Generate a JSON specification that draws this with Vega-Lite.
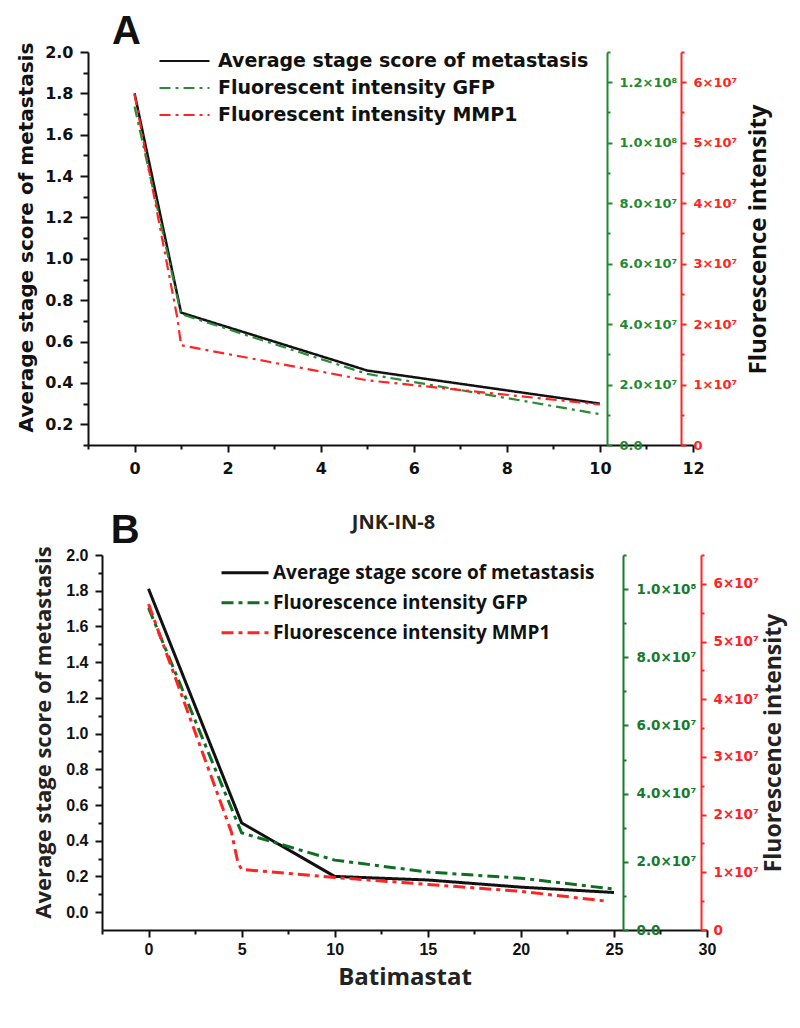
{
  "$schema": "https://vega.github.io/schema/vega-lite/v6.json",
  "background": "white",
  "padding": {"left": 16, "top": 12, "right": 8, "bottom": 8},
  "config": {"view": {"stroke": null}, "axis": {"grid": false}},
  "datasets": {
    "a": [
      {"x": 0, "series": "Average stage score of metastasis", "v": 1.8},
      {"x": 1, "series": "Average stage score of metastasis", "v": 0.74},
      {"x": 5, "series": "Average stage score of metastasis", "v": 0.46},
      {"x": 10, "series": "Average stage score of metastasis", "v": 0.30},
      {"x": 0, "series": "Fluorescent intensity GFP", "v": 112000000},
      {"x": 1, "series": "Fluorescent intensity GFP", "v": 43300000},
      {"x": 5, "series": "Fluorescent intensity GFP", "v": 23500000},
      {"x": 10, "series": "Fluorescent intensity GFP", "v": 10200000},
      {"x": 0, "series": "Fluorescent intensity MMP1", "v": 58000000},
      {"x": 0.92, "series": "Fluorescent intensity MMP1", "v": 21000000},
      {"x": 1, "series": "Fluorescent intensity MMP1", "v": 16500000},
      {"x": 5, "series": "Fluorescent intensity MMP1", "v": 10700000},
      {"x": 10, "series": "Fluorescent intensity MMP1", "v": 6700000}
    ],
    "b": [
      {"x": 0, "series": "Average stage score of metastasis", "v": 1.81},
      {"x": 5, "series": "Average stage score of metastasis", "v": 0.5},
      {"x": 10, "series": "Average stage score of metastasis", "v": 0.2},
      {"x": 15, "series": "Average stage score of metastasis", "v": 0.18},
      {"x": 20, "series": "Average stage score of metastasis", "v": 0.14},
      {"x": 25, "series": "Average stage score of metastasis", "v": 0.11},
      {"x": 0, "series": "Fluorescence intensity GFP", "v": 94500000},
      {"x": 5, "series": "Fluorescence intensity GFP", "v": 28500000},
      {"x": 10, "series": "Fluorescence intensity GFP", "v": 20500000},
      {"x": 15, "series": "Fluorescence intensity GFP", "v": 17000000},
      {"x": 20, "series": "Fluorescence intensity GFP", "v": 15200000},
      {"x": 25, "series": "Fluorescence intensity GFP", "v": 12000000},
      {"x": 0, "series": "Fluorescence intensity MMP1", "v": 56500000},
      {"x": 4.45, "series": "Fluorescence intensity MMP1", "v": 17000000},
      {"x": 4.8, "series": "Fluorescence intensity MMP1", "v": 11700000},
      {"x": 5, "series": "Fluorescence intensity MMP1", "v": 10500000},
      {"x": 10, "series": "Fluorescence intensity MMP1", "v": 9100000},
      {"x": 15, "series": "Fluorescence intensity MMP1", "v": 7900000},
      {"x": 20, "series": "Fluorescence intensity MMP1", "v": 6700000},
      {"x": 24.6, "series": "Fluorescence intensity MMP1", "v": 5000000}
    ]
  },
  "columns": 1,
  "align": "none",
  "spacing": 34,
  "resolve": {"scale": {"color": "independent", "strokeDash": "independent"}},
  "concat": [
    {
      "width": 605,
      "height": 393,
      "title": {"text": "A", "anchor": "start", "frame": "group", "dx": 24, "offset": -42, "baseline": "alphabetic", "font": "Liberation Sans", "fontSize": 40, "fontWeight": "bold", "color": "#111111"},
      "data": {"name": "a"},
      "encoding": {
        "x": {
          "field": "x", "type": "quantitative",
          "scale": {"domain": [-1, 12], "nice": false, "zero": false},
          "axis": {
            "title": null,
            "values": [-1, 0, 1, 2, 3, 4, 5, 6, 7, 8, 9, 10, 11, 12],
            "format": "d",
            "labelExpr": "datum.value % 2 == 0 ? datum.label : ''",
            "tickSize": {"condition": {"test": "datum.value % 2 == 0", "value": 7}, "value": 4},
            "tickWidth": 2, "tickColor": "#111111",
            "domainWidth": 2, "domainColor": "#111111",
            "labelFont": "DejaVu Sans", "labelFontSize": 16, "labelFontWeight": "bold", "labelColor": "#111111",
            "labelPadding": 8, "labelFlush": false, "labelOverlap": false, "labelBound": false
          }
        },
        "color": {
          "field": "series", "type": "nominal",
          "scale": {"domain": ["Average stage score of metastasis", "Fluorescent intensity GFP", "Fluorescent intensity MMP1"], "range": ["#111111", "#2a8a35", "#ff2424"]},
          "legend": {"title": null, "orient": "none", "legendX": 70, "legendY": -4.5, "symbolType": "stroke", "symbolSize": 2500, "symbolStrokeWidth": 2.2, "labelFont": "DejaVu Sans", "labelFontSize": 19, "labelFontWeight": "bold", "labelColor": "#111111", "labelOffset": 7, "rowPadding": 0, "clipHeight": 27, "labelLimit": 500}
        },
        "strokeDash": {
          "field": "series", "type": "nominal",
          "scale": {"domain": ["Average stage score of metastasis", "Fluorescent intensity GFP", "Fluorescent intensity MMP1"], "range": [[1, 0], [11, 5, 3, 5], [11, 5, 3, 5]]},
          "legend": {"title": null, "orient": "none", "legendX": 70, "legendY": -4.5, "symbolType": "stroke", "symbolSize": 2500, "symbolStrokeWidth": 2.2, "labelFont": "DejaVu Sans", "labelFontSize": 19, "labelFontWeight": "bold", "labelColor": "#111111", "labelOffset": 7, "rowPadding": 0, "clipHeight": 27, "labelLimit": 500}
        }
      },
      "layer": [
        {
          "transform": [{"filter": "datum.series == 'Average stage score of metastasis'"}],
          "mark": {"type": "line", "strokeWidth": 2.5},
          "encoding": {
            "y": {
              "field": "v", "type": "quantitative",
              "scale": {"domain": [0.1, 2.0], "nice": false, "zero": false},
              "axis": {
                "orient": "left",
                "title": "Average stage score of metastasis",
                "titleFont": "DejaVu Sans", "titleFontSize": 20, "titleFontWeight": "bold", "titleColor": "#111111", "titlePadding": 8, "titleY": 185,
                "values": [0.1, 0.2, 0.3, 0.4, 0.5, 0.6, 0.7, 0.8, 0.9, 1.0, 1.1, 1.2, 1.3, 1.4, 1.5, 1.6, 1.7, 1.8, 1.9, 2.0],
                "format": ".1f",
                "labelExpr": "round(datum.value * 10) % 2 == 0 ? datum.label : ''",
                "tickSize": {"condition": {"test": "round(datum.value * 10) % 2 == 0", "value": 8}, "value": 5},
                "tickWidth": 2, "tickColor": "#111111",
                "domainWidth": 2, "domainColor": "#111111",
                "labelFont": "DejaVu Sans", "labelFontSize": 16, "labelFontWeight": "bold", "labelColor": "#111111",
                "labelPadding": 7, "labelOverlap": false, "labelBound": false, "labelFlush": false
              }
            }
          }
        },
        {
          "transform": [{"filter": "datum.series == 'Fluorescent intensity GFP'"}],
          "mark": {"type": "line", "strokeWidth": 2.2},
          "encoding": {
            "y": {
              "field": "v", "type": "quantitative",
              "scale": {"domain": [0, 130000000], "nice": false, "zero": false},
              "axis": {
                "orient": "right", "offset": -86, "title": null,
                "values": [0, 10000000, 20000000, 30000000, 40000000, 50000000, 60000000, 70000000, 80000000, 90000000, 100000000, 110000000, 120000000, 130000000],
                "labelExpr": "datum.value == 0 ? '0.0' : (round(datum.value / 1e7) % 2 != 0 ? '' : (datum.value >= 1e8 ? format(datum.value / 1e8, '.1f') + '×10⁸' : format(datum.value / 1e7, '.1f') + '×10⁷'))",
                "tickSize": {"condition": {"test": "round(datum.value / 1e7) % 2 == 0", "value": 5}, "value": 3},
                "tickWidth": 2, "tickColor": "#1f8a30",
                "domainWidth": 2, "domainColor": "#1f8a30",
                "labelFont": "DejaVu Sans", "labelFontSize": 13, "labelFontWeight": "bold", "labelColor": "#1f8a30",
                "labelPadding": 7, "labelOverlap": false, "labelBound": false, "labelFlush": false
              }
            }
          }
        },
        {
          "transform": [{"filter": "datum.series == 'Fluorescent intensity MMP1'"}],
          "mark": {"type": "line", "strokeWidth": 2.2},
          "encoding": {
            "y": {
              "field": "v", "type": "quantitative",
              "scale": {"domain": [0, 65000000], "nice": false, "zero": false},
              "axis": {
                "orient": "right", "offset": -12,
                "title": "Fluorescence intensity",
                "titleFont": "Open Sans", "titleFontSize": 24, "titleFontWeight": "bold", "titleColor": "#111111", "titleAngle": 270, "titleBaseline": "top", "titlePadding": 10, "titleY": 187,
                "values": [0, 5000000, 10000000, 15000000, 20000000, 25000000, 30000000, 35000000, 40000000, 45000000, 50000000, 55000000, 60000000, 65000000],
                "labelExpr": "datum.value == 0 ? '0' : (round(datum.value / 5e6) % 2 != 0 ? '' : format(datum.value / 1e7, 'd') + '×10⁷')",
                "tickSize": {"condition": {"test": "round(datum.value / 5e6) % 2 == 0", "value": 5}, "value": 3},
                "tickWidth": 2, "tickColor": "#ff2424",
                "domainWidth": 2, "domainColor": "#ff2424",
                "labelFont": "DejaVu Sans", "labelFontSize": 13, "labelFontWeight": "bold", "labelColor": "#ff2424",
                "labelPadding": 7, "labelOverlap": false, "labelBound": false, "labelFlush": false
              }
            }
          }
        }
      ],
      "resolve": {"scale": {"y": "independent"}}
    },
    {
      "title": {"text": "B", "anchor": "start", "frame": "bounds", "dx": 78, "offset": -70, "baseline": "alphabetic", "font": "Liberation Sans", "fontSize": 40, "fontWeight": "bold", "color": "#111111"},
      "spacing": -57,
      "hconcat": [
        {
          "width": 1, "height": 1,
          "data": {"values": [{"s": 1}]},
          "mark": {"type": "point", "opacity": 0, "size": 0},
          "encoding": {}
        },
        {
          "width": 605,
          "height": 375,
          "title": {"text": "JNK-IN-8", "anchor": "middle", "frame": "group", "dx": -11, "offset": -3, "baseline": "alphabetic", "font": "Open Sans", "fontSize": 20, "fontWeight": "bold", "color": "#222222"},
          "data": {"name": "b"},
          "encoding": {
            "x": {
              "field": "x", "type": "quantitative",
              "scale": {"domain": [-2.5, 30], "nice": false, "zero": false},
              "axis": {
                "title": "Batimastat",
                "titleFont": "Open Sans", "titleFontSize": 24, "titleFontWeight": "bold", "titleColor": "#222222", "titlePadding": 8,
                "values": [-2.5, 0, 2.5, 5, 7.5, 10, 12.5, 15, 17.5, 20, 22.5, 25, 27.5, 30],
                "format": "d",
                "labelExpr": "datum.value % 5 == 0 ? datum.label : ''",
                "tickSize": {"condition": {"test": "datum.value % 5 == 0", "value": 7}, "value": 4},
                "tickWidth": 2, "tickColor": "#111111",
                "domainWidth": 2, "domainColor": "#111111",
                "labelFont": "Liberation Sans", "labelFontSize": 16, "labelFontWeight": "bold", "labelColor": "#111111",
                "labelPadding": 4, "labelFlush": false, "labelOverlap": false, "labelBound": false
              }
            },
            "color": {
              "field": "series", "type": "nominal",
              "scale": {"domain": ["Average stage score of metastasis", "Fluorescence intensity GFP", "Fluorescence intensity MMP1"], "range": ["#111111", "#0f6e22", "#ff2424"]},
              "legend": {"title": null, "orient": "none", "legendX": 132, "legendY": 3, "symbolType": "stroke", "symbolSize": 2209, "symbolStrokeWidth": 3, "labelFont": "Open Sans", "labelFontSize": 19, "labelFontWeight": "bold", "labelColor": "#111111", "labelOffset": 3, "rowPadding": 0, "clipHeight": 29.5, "labelLimit": 500}
            },
            "strokeDash": {
              "field": "series", "type": "nominal",
              "scale": {"domain": ["Average stage score of metastasis", "Fluorescence intensity GFP", "Fluorescence intensity MMP1"], "range": [[1, 0], [12, 5, 4, 5], [12, 5, 4, 5]]},
              "legend": {"title": null, "orient": "none", "legendX": 132, "legendY": 3, "symbolType": "stroke", "symbolSize": 2209, "symbolStrokeWidth": 3, "labelFont": "Open Sans", "labelFontSize": 19, "labelFontWeight": "bold", "labelColor": "#111111", "labelOffset": 3, "rowPadding": 0, "clipHeight": 29.5, "labelLimit": 500}
            }
          },
          "layer": [
            {
              "transform": [{"filter": "datum.series == 'Average stage score of metastasis'"}],
              "mark": {"type": "line", "strokeWidth": 3},
              "encoding": {
                "y": {
                  "field": "v", "type": "quantitative",
                  "scale": {"domain": [-0.1, 2.0], "nice": false, "zero": false},
                  "axis": {
                    "orient": "left",
                    "title": "Average stage score of metastasis",
                    "titleFont": "Open Sans", "titleFontSize": 22, "titleFontWeight": "bold", "titleColor": "#222222", "titlePadding": 10, "titleY": 177,
                    "values": [0.0, 0.1, 0.2, 0.3, 0.4, 0.5, 0.6, 0.7, 0.8, 0.9, 1.0, 1.1, 1.2, 1.3, 1.4, 1.5, 1.6, 1.7, 1.8, 1.9, 2.0],
                    "format": ".1f",
                    "labelExpr": "round(datum.value * 10) % 2 == 0 ? datum.label : ''",
                    "tickSize": {"condition": {"test": "round(datum.value * 10) % 2 == 0", "value": 7}, "value": 4},
                    "tickWidth": 2, "tickColor": "#111111",
                    "domainWidth": 2, "domainColor": "#111111",
                    "labelFont": "Liberation Sans", "labelFontSize": 16, "labelFontWeight": "bold", "labelColor": "#111111",
                    "labelPadding": 7, "labelOverlap": false, "labelBound": false, "labelFlush": false
                  }
                }
              }
            },
            {
              "transform": [{"filter": "datum.series == 'Fluorescence intensity GFP'"}],
              "mark": {"type": "line", "strokeWidth": 3},
              "encoding": {
                "y": {
                  "field": "v", "type": "quantitative",
                  "scale": {"domain": [0, 110000000], "nice": false, "zero": false},
                  "axis": {
                    "orient": "right", "offset": -84, "title": null,
                    "values": [0, 10000000, 20000000, 30000000, 40000000, 50000000, 60000000, 70000000, 80000000, 90000000, 100000000, 110000000],
                    "labelExpr": "datum.value == 0 ? '0.0' : (round(datum.value / 1e7) % 2 != 0 ? '' : (datum.value >= 1e8 ? format(datum.value / 1e8, '.1f') + '×10⁸' : format(datum.value / 1e7, '.1f') + '×10⁷'))",
                    "tickSize": {"condition": {"test": "round(datum.value / 1e7) % 2 == 0", "value": 5}, "value": 3},
                    "tickWidth": 2, "tickColor": "#1a7a2c",
                    "domainWidth": 2, "domainColor": "#1a7a2c",
                    "labelFont": "DejaVu Sans", "labelFontSize": 13.5, "labelFontWeight": "bold", "labelColor": "#1a7a2c",
                    "labelPadding": 8, "labelOverlap": false, "labelBound": false, "labelFlush": false
                  }
                }
              }
            },
            {
              "transform": [{"filter": "datum.series == 'Fluorescence intensity MMP1'"}],
              "mark": {"type": "line", "strokeWidth": 3},
              "encoding": {
                "y": {
                  "field": "v", "type": "quantitative",
                  "scale": {"domain": [0, 65000000], "nice": false, "zero": false},
                  "axis": {
                    "orient": "right", "offset": -6,
                    "title": "Fluorescence intensity",
                    "titleFont": "Open Sans", "titleFontSize": 23, "titleFontWeight": "bold", "titleColor": "#222222", "titleAngle": 270, "titleBaseline": "top", "titlePadding": 4,
                    "values": [0, 5000000, 10000000, 15000000, 20000000, 25000000, 30000000, 35000000, 40000000, 45000000, 50000000, 55000000, 60000000, 65000000],
                    "labelExpr": "datum.value == 0 ? '0' : (round(datum.value / 5e6) % 2 != 0 ? '' : format(datum.value / 1e7, 'd') + '×10⁷')",
                    "tickSize": {"condition": {"test": "round(datum.value / 5e6) % 2 == 0", "value": 5}, "value": 3},
                    "tickWidth": 2, "tickColor": "#ff2424",
                    "domainWidth": 2, "domainColor": "#ff2424",
                    "labelFont": "DejaVu Sans", "labelFontSize": 13.5, "labelFontWeight": "bold", "labelColor": "#ff2424",
                    "labelPadding": 7, "labelOverlap": false, "labelBound": false, "labelFlush": false
                  }
                }
              }
            }
          ],
          "resolve": {"scale": {"y": "independent"}}
        }
      ]
    }
  ]
}
